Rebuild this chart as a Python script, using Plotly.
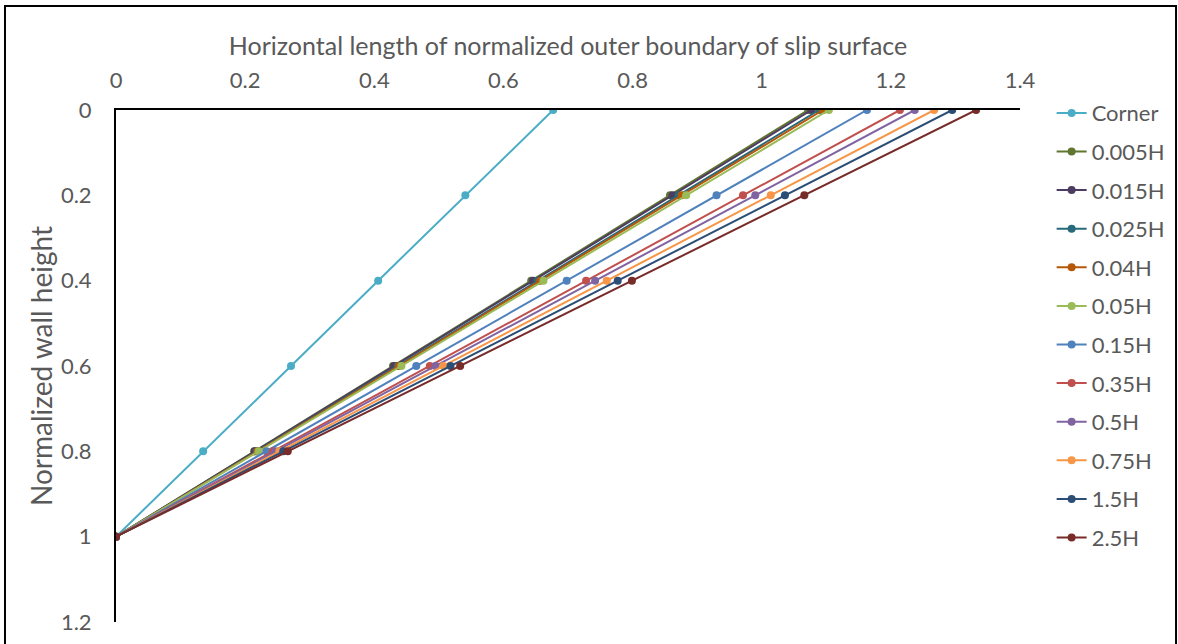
import plotly.graph_objects as go

# Normalized wall height levels (0 = top of wall, 1 = base)
wall_height = [0, 0.2, 0.4, 0.6, 0.8, 1.0]

series_names = ["Corner", "0.005H", "0.015H", "0.025H", "0.04H", "0.05H",
                "0.15H", "0.35H", "0.5H", "0.75H", "1.5H", "2.5H"]

# Horizontal length of the outer slip boundary at each wall height level
corner = [0.677, 0.541, 0.406, 0.271, 0.135, 0.0]
h0005 = [1.072, 0.858, 0.643, 0.429, 0.214, 0.0]
h0015 = [1.077, 0.862, 0.646, 0.431, 0.215, 0.0]
h0025 = [1.089, 0.871, 0.653, 0.436, 0.218, 0.0]
h004 = [1.095, 0.876, 0.657, 0.438, 0.219, 0.0]
h005 = [1.104, 0.883, 0.662, 0.442, 0.221, 0.0]
h015 = [1.163, 0.930, 0.698, 0.465, 0.233, 0.0]
h035 = [1.214, 0.971, 0.728, 0.486, 0.243, 0.0]
h05 = [1.237, 0.990, 0.742, 0.495, 0.247, 0.0]
h075 = [1.267, 1.014, 0.760, 0.507, 0.253, 0.0]
h15 = [1.295, 1.036, 0.777, 0.518, 0.259, 0.0]
h25 = [1.332, 1.066, 0.799, 0.533, 0.266, 0.0]

series_values = [corner, h0005, h0015, h0025, h004, h005,
                 h015, h035, h05, h075, h15, h25]

colors = ["#4BACC6", "#5F7530", "#4D3B62", "#276A7C", "#B65708", "#9BBB59",
          "#4F81BD", "#C0504D", "#8064A2", "#F79646", "#2C4D75", "#772C2A"]

x_ticks = [0, 0.2, 0.4, 0.6, 0.8, 1, 1.2, 1.4]
y_ticks = [0, 0.2, 0.4, 0.6, 0.8, 1, 1.2]

FONT = "Lato, Calibri, Carlito, sans-serif"
GRAY = "#595959"

fig = go.Figure()
for i, (name, vals, col) in enumerate(zip(series_names, series_values, colors)):
    fig.add_trace(go.Scatter(
        x=vals, y=wall_height, name=name, mode="lines+markers",
        line=dict(color=col, width=2),
        marker=dict(color=col, size=8),
        legendgroup=f"g{i}",
    ))

fig.update_layout(
    width=1178, height=644,
    margin=dict(l=116, r=158, t=110, b=22, autoexpand=False),
    paper_bgcolor="white", plot_bgcolor="white",
    font=dict(family=FONT, color=GRAY, size=22),
    showlegend=True,
    legend=dict(
        x=1.035, xanchor="left", y=1.035, yanchor="top",
        font=dict(family=FONT, size=22, color=GRAY),
        tracegroupgap=7, traceorder="grouped",
        itemwidth=30, maxheight=620,
    ),
    xaxis=dict(
        side="top", range=[0, 1.4], tickvals=x_ticks,
        ticktext=["0", "0.2", "0.4", "0.6", "0.8", "1", "1.2", "1.4"],
        showgrid=False, zeroline=False, automargin=False,
        showline=True, linecolor="black", linewidth=2,
        ticks="", ticklabelstandoff=11,
        tickfont=dict(size=22, color=GRAY, family=FONT),
        title=dict(text="Horizontal length of normalized outer boundary of slip surface",
                   font=dict(size=25, color=GRAY, family=FONT), standoff=3),
    ),
    yaxis=dict(
        range=[1.2, 0], tickvals=y_ticks,
        ticktext=["0", "0.2", "0.4", "0.6", "0.8", "1", "1.2"],
        showgrid=False, zeroline=False, automargin=False,
        showline=True, linecolor="black", linewidth=2,
        ticks="", ticklabelstandoff=18,
        tickfont=dict(size=22, color=GRAY, family=FONT),
        title=dict(text="Normalized wall height",
                   font=dict(size=28, color=GRAY, family=FONT), standoff=0),
    ),
    shapes=[dict(
        type="rect", xref="paper", yref="paper",
        x0=-0.1228, x1=1.1726, y0=-0.2, y1=1.203,
        line=dict(color="black", width=2), fillcolor="rgba(0,0,0,0)",
        layer="below",
    )],
)

fig.write_html("out.html")
